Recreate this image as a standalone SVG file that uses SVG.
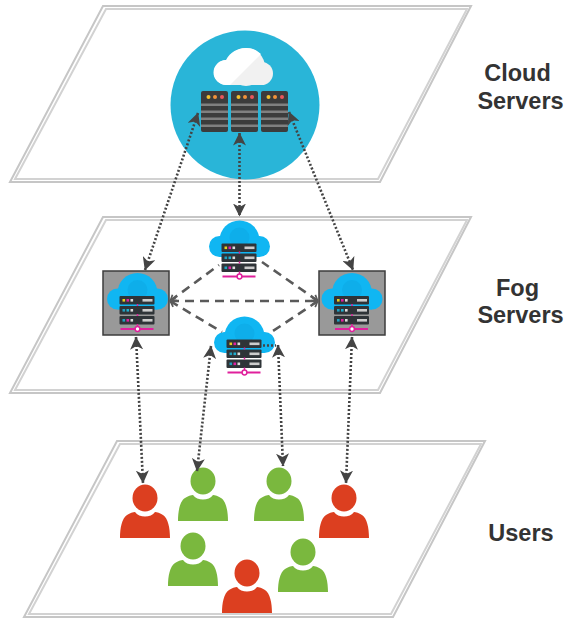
<svg xmlns="http://www.w3.org/2000/svg" xmlns:xlink="http://www.w3.org/1999/xlink" width="566" height="623" viewBox="0 0 566 623">
<style>
.lbl{font-family:"Liberation Sans",Arial,sans-serif;font-size:23.500px;font-weight:700;fill:#333;text-anchor:middle}
.pl{fill:#fff;stroke:#c6c6c6;stroke-width:2}
.pi{fill:none;stroke:#d2d2d2;stroke-width:2}
.dot{fill:none;stroke:#444;stroke-width:2.600;stroke-dasharray:2 2}
.dash{fill:none;stroke:#5a5a5a;stroke-width:2.600;stroke-dasharray:9 6}
.sv{fill:#3c3c3c}
.bar{fill:#808080}
</style>
<defs>
<marker id="ah" viewBox="0 0 13 13" refX="12.500" refY="6.500" markerWidth="13" markerHeight="13" markerUnits="userSpaceOnUse" orient="auto-start-reverse">
<path d="M0 0L13 6.500L0 13L3.500 6.500Z" fill="#444"/>
</marker>
<marker id="chev" viewBox="0 0 8 10" refX="7.500" refY="5" markerWidth="7" markerHeight="9" markerUnits="userSpaceOnUse" orient="auto-start-reverse">
<path d="M1 1L7 5L1 9" fill="none" stroke="#5a5a5a" stroke-width="2"/>
</marker>
<g id="fog">
<g fill="#10b6f2"><circle cx="0" cy="20" r="20"/><circle cx="-20" cy="26" r="10.500"/><circle cx="20" cy="26" r="10.500"/><rect x="-20" y="22" width="40" height="14.500"/></g>
<circle cx="0" cy="17" r="10" fill="#0eaeea"/>
<g><rect x="-18" y="23" width="35" height="8.500" rx="1" fill="#2f3438"/><rect x="-15" y="26" width="2.600" height="2.600" fill="#e8d020"/><rect x="-11" y="26" width="2.600" height="2.600" fill="#e020a0"/><rect x="-7" y="26" width="2.600" height="2.600" fill="#ddd"/><rect x="5" y="26" width="10" height="2.600" fill="#ccc"/></g>
<g><rect x="-18" y="33" width="35" height="8.500" rx="1" fill="#2f3438"/><rect x="-15" y="36" width="2.600" height="2.600" fill="#20a0c0"/><rect x="-11" y="36" width="2.600" height="2.600" fill="#20b0d0"/><rect x="-7" y="36" width="2.600" height="2.600" fill="#ddd"/><rect x="5" y="36" width="10" height="2.600" fill="#ccc"/></g>
<g><rect x="-18" y="43" width="35" height="8.500" rx="1" fill="#2f3438"/><rect x="-15" y="46" width="2.600" height="2.600" fill="#20a0c0"/><rect x="-11" y="46" width="2.600" height="2.600" fill="#e020a0"/><rect x="-7" y="46" width="2.600" height="2.600" fill="#ddd"/><rect x="5" y="46" width="10" height="2.600" fill="#ccc"/></g>
<path d="M0 31v2M0 41v2M0 51v4" stroke="#e0209c" stroke-width="1.500"/>
<path d="M-17 56H16" stroke="#e0209c" stroke-width="2"/>
<circle cx="0" cy="56" r="2.400" fill="#fff" stroke="#e0209c" stroke-width="1.500"/>
</g>
<g id="person">
<ellipse cx="0" cy="0" rx="12.500" ry="13.500"/>
<path d="M-25 40C-25 30-23 20-18 17C-15 15-12 14-10 14C-6 20 6 20 10 14C12 14 15 15 18 17C23 20 25 30 25 40Z"/>
</g>
</defs>
<g id="plane-cloud"><path class="pl" d="M103 6H471L380 182H10Z"/><path class="pi" d="M106 9H467L378 179H15Z"/></g>
<g id="plane-fog"><path class="pl" d="M103 217H471L380 393H10Z"/><path class="pi" d="M106 220H467L378 390H15Z"/></g>
<g id="plane-users"><path class="pl" d="M117 441H485L393 617H24Z"/><path class="pi" d="M120 444H481L391 614H29Z"/></g>
<g id="cloud-servers">
<circle cx="245" cy="105" r="74.500" fill="#29b5d8"/>
<g fill="#f1f1f1"><circle cx="226.500" cy="72.500" r="12.500"/><circle cx="246" cy="67" r="19"/><circle cx="261.500" cy="73.500" r="11.500"/><rect x="226" y="70" width="36" height="15"/></g>
<path d="M226 85A12.500 12.500 0 0 1 226 60C230 52 238 48 246 48C252 48 257 50 261 54L230 85Z" fill="#fff"/>
<g id="rack1"><rect x="201" y="91" width="27" height="41" rx="2" class="sv"/><rect x="201" y="103.500" width="27" height="2.500" class="bar"/><rect x="201" y="110.500" width="27" height="2.500" class="bar"/><rect x="201" y="117.500" width="27" height="2.500" class="bar"/><rect x="201" y="124.500" width="27" height="2.500" class="bar"/><circle cx="208.500" cy="97" r="2" fill="#f2c230"/><circle cx="215" cy="97" r="2" fill="#f0923a"/><circle cx="222" cy="97" r="2" fill="#e8565a"/></g>
<g id="rack2"><rect x="231" y="91" width="27" height="41" rx="2" class="sv"/><rect x="231" y="103.500" width="27" height="2.500" class="bar"/><rect x="231" y="110.500" width="27" height="2.500" class="bar"/><rect x="231" y="117.500" width="27" height="2.500" class="bar"/><rect x="231" y="124.500" width="27" height="2.500" class="bar"/><circle cx="238.500" cy="97" r="2" fill="#f2c230"/><circle cx="245" cy="97" r="2" fill="#f0923a"/><circle cx="252" cy="97" r="2" fill="#e8565a"/></g>
<g id="rack3"><rect x="261" y="91" width="27" height="41" rx="2" class="sv"/><rect x="261" y="103.500" width="27" height="2.500" class="bar"/><rect x="261" y="110.500" width="27" height="2.500" class="bar"/><rect x="261" y="117.500" width="27" height="2.500" class="bar"/><rect x="261" y="124.500" width="27" height="2.500" class="bar"/><circle cx="268.500" cy="97" r="2" fill="#f2c230"/><circle cx="275" cy="97" r="2" fill="#f0923a"/><circle cx="282" cy="97" r="2" fill="#e8565a"/></g>
</g>
<g id="fog-left"><rect x="103" y="271" width="66" height="64" fill="#999" stroke="#3c3c3c" stroke-width="1.500"/><use href="#fog" xlink:href="#fog" x="137.500" y="273"/></g>
<g id="fog-right"><rect x="319" y="271" width="66" height="64" fill="#999" stroke="#3c3c3c" stroke-width="1.500"/><use href="#fog" xlink:href="#fog" x="352" y="273"/></g>
<g id="fog-top"><use href="#fog" xlink:href="#fog" x="239.500" y="220.500"/></g>
<g id="fog-mid"><use href="#fog" xlink:href="#fog" x="244.500" y="316.500"/></g>
<g id="users">
<use id="u1" href="#person" xlink:href="#person" x="145" y="498" fill="#dc3f20"/>
<use id="u2" href="#person" xlink:href="#person" x="203" y="481" fill="#7ab83e"/>
<use id="u3" href="#person" xlink:href="#person" x="279" y="481" fill="#7ab83e"/>
<use id="u4" href="#person" xlink:href="#person" x="344" y="498" fill="#dc3f20"/>
<use id="u5" href="#person" xlink:href="#person" x="193" y="546" fill="#7ab83e"/>
<use id="u6" href="#person" xlink:href="#person" x="247" y="573" fill="#dc3f20"/>
<use id="u7" href="#person" xlink:href="#person" x="303" y="552" fill="#7ab83e"/>
</g>
<g id="connectors">
<path class="dot" d="M198 113L145 270" marker-start="url(#ah)" marker-end="url(#ah)"/>
<path class="dot" d="M239.500 133V216" marker-start="url(#ah)" marker-end="url(#ah)"/>
<path class="dot" d="M289 112L353 270" marker-start="url(#ah)" marker-end="url(#ah)"/>
<path class="dot" d="M136 337L143 483" marker-start="url(#ah)" marker-end="url(#ah)"/>
<path class="dot" d="M211 346L197 471" marker-start="url(#ah)" marker-end="url(#ah)"/>
<path class="dot" d="M278 345L283 466" marker-start="url(#ah)" marker-end="url(#ah)"/>
<path class="dot" d="M352 337L346 483" marker-start="url(#ah)" marker-end="url(#ah)"/>
<path class="dot" d="M263 345.500H276"/>
<path class="dash" d="M170 301L219 265" marker-start="url(#chev)"/>
<path class="dash" d="M170 301L222 332" marker-start="url(#chev)"/>
<path class="dash" d="M170 301H318" marker-start="url(#chev)" marker-end="url(#chev)"/>
<path class="dash" d="M318 301L262 262" marker-start="url(#chev)"/>
<path class="dash" d="M318 301L270 333" marker-start="url(#chev)"/>
</g>
<text class="lbl" x="517.500" y="81">Cloud</text>
<text class="lbl" x="520.500" y="109">Servers</text>
<text class="lbl" x="517.500" y="296">Fog</text>
<text class="lbl" x="520.500" y="323">Servers</text>
<text class="lbl" x="521" y="541">Users</text>
</svg>
